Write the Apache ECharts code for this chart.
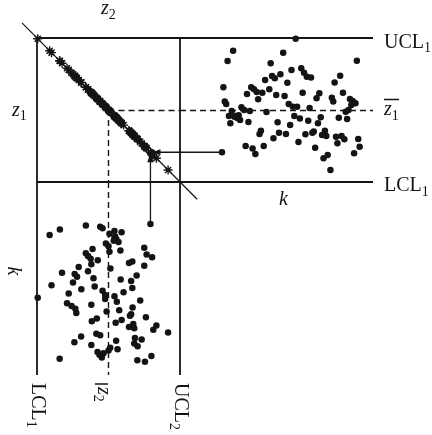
<!DOCTYPE html>
<html><head><meta charset="utf-8">
<script src="https://cdn.jsdelivr.net/npm/echarts@6/dist/echarts.min.js"></script>
<style>html,body{margin:0;padding:0;background:#fff}#c{width:432px;height:435px}</style>
</head><body><div id="c"></div>
<script>
// sample index k
const kIndex = [1,2,3,4,5,6,7,8,9,10,11,12,13,14,15,17,18,19,20,21,22,23,24,25,26,27,28,29,30,31,32,33,35,36,37,38,39,40,41,42,43,45,46,47,48,49,50,51,52,53,54,55,56,57,58,59,60,61,62,63,64,65,66,67,68,69,70,71,72,73,74,75,76,77,79,80,81,82,83,84,85,86,87,88,89,90,91,92,93,94,95,96,97,98,99,100];
// variable z1 per sample
const z1Values = [-1.76,0.95,0.35,0.25,2.04,-0.25,-0.55,-0.04,2.47,-0.28,-0.25,-0.33,-0.22,-0.42,0.11,0.00,-1.50,0.67,-0.50,-0.04,0.95,-1.60,0.86,-1.83,0.75,0.45,-1.00,-0.86,0.72,-1.50,1.25,-0.08,0.86,1.95,1.42,-1.18,1.32,0.63,-0.51,-0.95,1.49,2.39,0.58,-1.00,1.14,0.25,-0.63,1.67,0.14,-0.25,2.97,0.14,-1.33,-0.35,1.74,0.72,1.55,-1.01,1.39,-0.45,0.08,1.35,-0.95,-0.90,-1.57,0.49,-0.55,0.70,-0.30,-1.04,-2.01,-0.86,-1.08,-1.88,-2.50,0.51,0.35,1.15,-1.11,-1.39,-0.32,1.43,-1.08,0.72,-1.22,-0.07,-0.38,0.00,0.46,0.21,0.38,-1.80,0.28,2.05,-1.21,-1.53];
// variable z2 per sample
const z2Values = [1.76,-0.95,-0.35,-0.25,-2.04,0.25,0.55,0.04,-2.47,0.28,0.25,0.33,0.22,0.42,-0.11,0.00,1.50,-0.67,0.50,0.04,-0.95,1.60,-0.86,1.83,-0.75,-0.45,1.00,0.86,-0.72,1.50,-1.25,0.08,-0.86,-1.95,-1.42,1.18,-1.32,-0.63,0.51,0.95,-1.49,-2.39,-0.58,1.00,-1.14,-0.25,0.63,-1.67,-0.14,0.25,-2.97,-0.14,1.33,0.35,-1.74,-0.72,-1.55,1.01,-1.39,0.45,-0.08,-1.35,0.95,0.90,1.57,-0.49,0.55,-0.70,0.30,1.04,2.01,0.86,1.08,1.88,2.50,-0.51,-0.35,-1.15,1.11,1.39,0.32,-1.43,1.08,-0.72,1.22,0.07,0.38,0.00,-0.46,-0.21,-0.38,1.80,-0.28,-2.05,1.21,1.53];
// control limits
const LCL = -3, CL = 0, UCL = 3;
// constraint line z1 = -z2 (end points, data units)
const diagLine = [[-3.63, 3.63], [3.72, -3.72]];
// k axis range
const kRange = [-29.2, 109.6];

const INK = '#141414';
const solid = {color: INK, width: 1.8, type: 'solid'};
const dashed = {color: INK, width: 1.4, type: [6, 4]};
function ml(data) {
  return {silent: true, symbol: ['none', 'none'], label: {show: false}, emphasis: {disabled: true}, animation: false, data: data};
}

const chart = echarts.init(document.getElementById('c'), null, {renderer: 'canvas', width: 432, height: 435});

const topPts = kIndex.map((k, i) => [k, z1Values[i]]);
const botPts = kIndex.map((k, i) => [z2Values[i], k]);
const diagPts = kIndex.map((k, i) => [z2Values[i], z1Values[i]]);

const hide = {show: false};
chart.setOption({
  animation: false,
  backgroundColor: '#fff',
  grid: [
    {left: 37, top: 38, width: 143, height: 144},
    {left: 180, top: 38, width: 193, height: 144},
    {left: 37, top: 182, width: 143, height: 193}
  ],
  xAxis: [
    {gridIndex: 0, type: 'value', min: LCL, max: UCL, axisLine: hide, axisTick: hide, axisLabel: hide, splitLine: hide},
    {gridIndex: 1, type: 'value', min: kRange[0], max: kRange[1], axisLine: hide, axisTick: hide, axisLabel: hide, splitLine: hide},
    {gridIndex: 2, type: 'value', min: LCL, max: UCL, axisLine: hide, axisTick: hide, axisLabel: hide, splitLine: hide}
  ],
  yAxis: [
    {gridIndex: 0, type: 'value', min: LCL, max: UCL, axisLine: hide, axisTick: hide, axisLabel: hide, splitLine: hide},
    {gridIndex: 1, type: 'value', min: LCL, max: UCL, axisLine: hide, axisTick: hide, axisLabel: hide, splitLine: hide},
    {gridIndex: 2, type: 'value', min: kRange[0], max: kRange[1], inverse: true, axisLine: hide, axisTick: hide, axisLabel: hide, splitLine: hide}
  ],
  series: [
    {
      type: 'scatter', xAxisIndex: 0, yAxisIndex: 0, data: diagPts, clip: false, silent: true,
      symbol: 'path://M0 5L10 5M5 0L5 10M1.6 1.6L8.4 8.4M8.4 1.6L1.6 8.4',
      symbolSize: 9,
      itemStyle: {color: 'rgba(0,0,0,0)', borderColor: INK, borderWidth: 1.4, opacity: 1},
      z: 4,
      markLine: Object.assign(ml([
        {yAxis: UCL, lineStyle: solid},
        {yAxis: LCL, lineStyle: solid},
        {xAxis: LCL, lineStyle: solid},
        {xAxis: UCL, lineStyle: solid},
        [{coord: [CL, CL], lineStyle: dashed}, {coord: [UCL, CL]}],
        [{coord: [CL, CL], lineStyle: dashed}, {coord: [CL, LCL]}]
      ]))
    },
    {
      type: 'scatter', xAxisIndex: 1, yAxisIndex: 1, data: topPts, clip: false, silent: true,
      symbol: 'circle', symbolSize: 6.5, itemStyle: {color: INK, opacity: 1}, z: 4,
      markLine: ml([
        {yAxis: UCL, lineStyle: solid},
        {yAxis: LCL, lineStyle: solid},
        {yAxis: CL, lineStyle: dashed}
      ])
    },
    {
      type: 'scatter', xAxisIndex: 2, yAxisIndex: 2, data: botPts, clip: false, silent: true,
      symbol: 'circle', symbolSize: 6.5, itemStyle: {color: INK, opacity: 1}, z: 4,
      markLine: ml([
        {xAxis: LCL, lineStyle: solid},
        {xAxis: UCL, lineStyle: solid},
        {xAxis: CL, lineStyle: dashed}
      ])
    }
  ]
});

// ---- pixel positions through the library's own scales
const d0 = chart.convertToPixel({gridIndex: 0}, diagLine[0]);
const d1 = chart.convertToPixel({gridIndex: 0}, diagLine[1]);
const pTop = chart.convertToPixel({gridIndex: 1}, [kIndex[0], z1Values[0]]);
const pDiag = chart.convertToPixel({gridIndex: 0}, [z2Values[0], z1Values[0]]);
const pBot = chart.convertToPixel({gridIndex: 2}, [z2Values[0], kIndex[0]]);

const FONT = '"Liberation Serif", "Times New Roman", serif';
const mctx = document.createElement('canvas').getContext('2d');
function tw(str, size, italic) {
  mctx.font = (italic ? 'italic ' : '') + size + 'px ' + FONT;
  return mctx.measureText(str).width;
}
function txt(x, y, str, size, italic, align) {
  return {type: 'text', x: x, y: y, silent: true, style: {
    text: str, fontSize: size, fontFamily: FONT, fontStyle: italic ? 'italic' : 'normal',
    fill: INK, align: align || 'left', verticalAlign: 'middle'}};
}
function subLabel(x, y, main, sub, italic, dy, rot, dx) {
  const w = tw(main, 20, italic);
  return {type: 'group', x: x, y: y, rotation: rot || 0, children: [
    txt(0, 0, main, 20, italic),
    txt(w + (dx || 0), dy, sub, 14, false)
  ]};
}
const ROT = -Math.PI / 2;

const graphics = [
  // constraint line
  {type: 'line', silent: true, z: 3, shape: {x1: d0[0], y1: d0[1], x2: d1[0], y2: d1[1]}, style: {stroke: INK, lineWidth: 1.2}},
  // connectors
  {type: 'line', silent: true, shape: {x1: pTop[0], y1: pTop[1], x2: pDiag[0] + 5, y2: pTop[1]}, style: {stroke: INK, lineWidth: 1.3}},
  {type: 'line', silent: true, shape: {x1: pBot[0], y1: pBot[1], x2: pBot[0], y2: pDiag[1] + 5}, style: {stroke: INK, lineWidth: 1.3}},
  {type: 'polygon', silent: true, shape: {points: [[pBot[0], pDiag[1] + 1], [pBot[0] - 3.2, pDiag[1] + 10], [pBot[0] + 3.2, pDiag[1] + 10]]}, style: {fill: INK}},
  {type: 'polygon', silent: true, shape: {points: [[pDiag[0] + 2, pTop[1]], [pDiag[0] + 10, pTop[1] - 3], [pDiag[0] + 10, pTop[1] + 3]]}, style: {fill: INK}},
  // labels
  subLabel(101, 8.8, 'z', '2', true, 6.7),
  subLabel(12, 110.8, 'z', '1', true, 6),
  subLabel(384, 43, 'UCL', '1', false, 5.5),
  subLabel(384, 109.8, 'z', '1', true, 6.5),
  {type: 'line', silent: true, shape: {x1: 384, y1: 99.5, x2: 399, y2: 99.5}, style: {stroke: INK, lineWidth: 1.5}},
  subLabel(384, 186, 'LCL', '1', false, 6),
  txt(279, 200, 'k', 20, true),
  {type: 'group', x: 13, y: 271, rotation: ROT, children: [txt(0, 0, 'k', 20, true, 'center')]},
  subLabel(37, 383, 'LCL', '1', false, 6, ROT),
  subLabel(103.7, 387, 'z', '2', true, 6.5, ROT),
  {type: 'line', silent: true, shape: {x1: 95, y1: 384, x2: 108, y2: 384}, style: {stroke: INK, lineWidth: 1.5}},
  subLabel(180, 383, 'UCL', '2', false, 6, ROT)
];
chart.setOption({graphic: graphics});
</script>
</body></html>
